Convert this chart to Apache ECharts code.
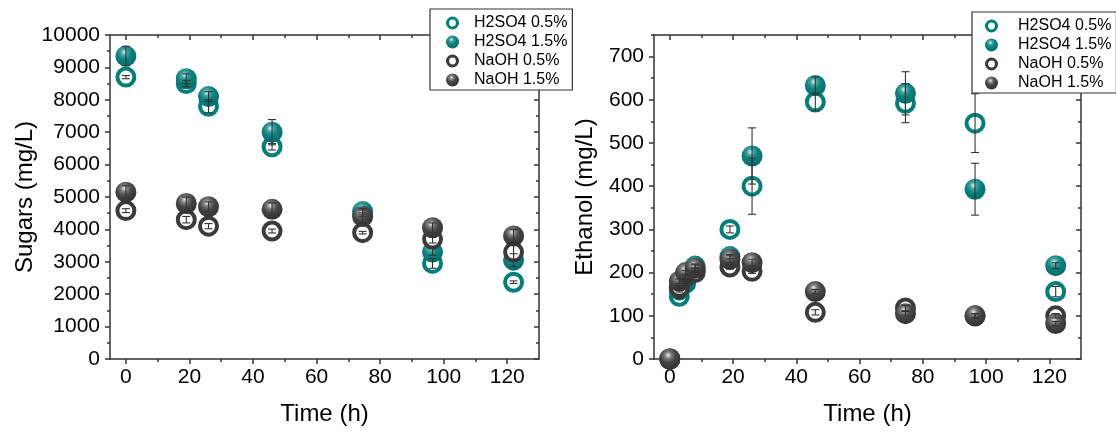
<!DOCTYPE html>
<html>
<head>
<meta charset="utf-8">
<script src="https://cdn.jsdelivr.net/npm/echarts@6/dist/echarts.min.js"></script>
<style>
  html, body { margin: 0; padding: 0; background: #fff; }
  #chart { width: 1116px; height: 435px; }
</style>
</head>
<body>
<div id="chart"></div>
<script>
// ---- data: residual sugars (mg/L) ----
const SUGAR_TIME = [0, 19, 26, 46, 74.5, 96.5, 122];
const SUGAR_H2SO4_05 = [8700, 8500, 7800, 6550, 4450, 2950, 2370];
const SUGAR_H2SO4_05_ERR = [50, 100, 200, 100, 60, 150, 40];
const SUGAR_H2SO4_15 = [9350, 8650, 8100, 7000, 4550, 3300, 3050];
const SUGAR_H2SO4_15_ERR = [300, 150, 150, 390, 100, 100, 200];
const SUGAR_NAOH_05 = [4580, 4300, 4100, 3950, 3900, 3700, 3300];
const SUGAR_NAOH_05_ERR = [60, 100, 80, 60, 40, 120, 250];
const SUGAR_NAOH_15 = [5150, 4800, 4700, 4620, 4400, 4050, 3800];
const SUGAR_NAOH_15_ERR = [200, 200, 150, 200, 200, 150, 200];

// ---- data: ethanol (mg/L) ----
const ETOH_TIME = [0, 3, 5, 8, 19, 26, 46, 74.5, 96.5, 122];
const ETOH_H2SO4_05 = [0, 145, 175, 205, 300, 400, 595, 592, 546, 156];
const ETOH_H2SO4_05_ERR = [0, 5, 5, 5, 8, 65, 20, 45, 68, 12];
const ETOH_H2SO4_15 = [0, 160, 180, 215, 237, 470, 633, 615, 393, 216];
const ETOH_H2SO4_15_ERR = [0, 5, 5, 5, 5, 65, 20, 50, 60, 7];
const ETOH_NAOH_05 = [0, 165, 190, 200, 213, 203, 108, 118, 100, 100];
const ETOH_NAOH_05_ERR = [0, 5, 5, 5, 5, 5, 6, 6, 5, 5];
const ETOH_NAOH_15 = [0, 180, 200, 210, 231, 223, 156, 105, 100, 82];
const ETOH_NAOH_15_ERR = [0, 5, 5, 8, 8, 8, 5, 5, 5, 5];

// ---- tick values ----
const TIME_TICKS = [0, 20, 40, 60, 80, 100, 120];
const TIME_MINOR = [10, 30, 50, 70, 90, 110];
const SUGAR_TICKS = [0, 1000, 2000, 3000, 4000, 5000, 6000, 7000, 8000, 9000, 10000];
const SUGAR_MINOR = [500, 1500, 2500, 3500, 4500, 5500, 6500, 7500, 8500, 9500];
const ETOH_TICKS = [0, 100, 200, 300, 400, 500, 600, 700];
const ETOH_MINOR = [50, 150, 250, 350, 450, 550, 650, 750];

const SERIES_NAMES = ['H2SO4 0.5%', 'H2SO4 1.5%', 'NaOH 0.5%', 'NaOH 1.5%'];

const FONT = '"Liberation Sans", Arial, sans-serif';
const TEAL = '#007f7b';
const GREY = '#3b3b3b';
const AXIS_LINE = { color: '#333', width: 1.5 };

function sphere(light, mid, base, edge) {
  return {
    type: 'radial', x: 0.42, y: 0.32, r: 0.72,
    colorStops: [
      { offset: 0, color: light },
      { offset: 0.22, color: mid },
      { offset: 0.5, color: base },
      { offset: 1, color: edge }
    ]
  };
}
const TEAL_BALL = sphere('#e4f3f2', '#3fa29e', '#0a807c', '#046c69');
const GREY_BALL = sphere('#eeeeee', '#7d7d7d', '#454545', '#303030');

// ring icon for the hollow markers in the legend
const RING = 'path://M0 50A50 50 0 1 1 100 50A50 50 0 1 1 0 50ZM24 50A26 26 0 1 0 76 50A26 26 0 1 0 24 50Z';

// One side of a frame: a main axis (line, major ticks, optional labels) and a minor-tick axis.
function sideAxes(grid, pos, min, max, major, minor, labelled, extra) {
  const common = { type: 'value', gridIndex: grid, position: pos, min: min, max: max,
                   splitLine: { show: false }, silent: true };
  const main = Object.assign({}, common, {
    axisLine: { show: true, onZero: false, lineStyle: AXIS_LINE },
    axisTick: { show: true, inside: !labelled, length: 5, customValues: major, lineStyle: AXIS_LINE },
    axisLabel: labelled ? {
      show: true, customValues: major, fontFamily: FONT, fontSize: 21, color: '#000',
      margin: (pos === 'left') ? 10 : 8,
      formatter: function (v) { return String(v); }
    } : { show: false }
  }, extra || {});
  const sub = Object.assign({}, common, {
    axisLine: { show: false, onZero: false },
    axisTick: { show: true, inside: !labelled, length: 3, customValues: minor, lineStyle: AXIS_LINE },
    axisLabel: { show: false }
  });
  return [main, sub];
}

function axisName(text, gap) {
  return { name: text, nameLocation: 'middle', nameGap: gap,
           nameTextStyle: { fontFamily: FONT, fontSize: 24, color: '#000' } };
}

const xAxes = []
  .concat(sideAxes(0, 'bottom', -5, 130, TIME_TICKS, TIME_MINOR, true, axisName('Time (h)', 43)))
  .concat(sideAxes(0, 'top', -5, 130, TIME_TICKS, TIME_MINOR, false))
  .concat(sideAxes(1, 'bottom', -5, 130, TIME_TICKS, TIME_MINOR, true, axisName('Time (h)', 43)))
  .concat(sideAxes(1, 'top', -5, 130, TIME_TICKS, TIME_MINOR, false));

const yAxes = []
  .concat(sideAxes(0, 'left', 0, 10000, SUGAR_TICKS, SUGAR_MINOR, true, axisName('Sugars (mg/L)', 72)))
  .concat(sideAxes(0, 'right', 0, 10000, SUGAR_TICKS, SUGAR_MINOR, false))
  .concat(sideAxes(1, 'left', 0, 750, ETOH_TICKS, ETOH_MINOR, true, axisName('Ethanol (mg/L)', 57)))
  .concat(sideAxes(1, 'right', 0, 750, ETOH_TICKS, ETOH_MINOR, false));

function points(times, vals) {
  return times.map(function (t, i) { return [t, vals[i]]; });
}

function markerSeries(grid, name, times, vals, hollow, color, ball) {
  return {
    type: 'scatter', name: name, xAxisIndex: grid * 4, yAxisIndex: grid * 4,
    data: points(times, vals), symbol: 'circle',
    symbolSize: hollow ? 17 : 21,
    itemStyle: hollow ? { color: '#fff', borderColor: color, borderWidth: 4, opacity: 1 }
                      : { color: ball, opacity: 1 },
    emphasis: { disabled: true }, z: 2, clip: true
  };
}

function renderErrorBar(params, api) {
  const x = api.value(0), y = api.value(1), e = api.value(2);
  if (!e) return null;
  const hi = api.coord([x, y + e]);
  const lo = api.coord([x, y - e]);
  const hw = 4;
  const style = { stroke: '#333', lineWidth: 1.1 };
  return {
    type: 'group',
    children: [
      { type: 'line', shape: { x1: hi[0], y1: hi[1], x2: lo[0], y2: lo[1] }, style: style },
      { type: 'line', shape: { x1: hi[0] - hw, y1: hi[1], x2: hi[0] + hw, y2: hi[1] }, style: style },
      { type: 'line', shape: { x1: lo[0] - hw, y1: lo[1], x2: lo[0] + hw, y2: lo[1] }, style: style }
    ]
  };
}

function errorSeries(grid, times, vals, errs) {
  return {
    type: 'custom', xAxisIndex: grid * 4, yAxisIndex: grid * 4,
    data: times.map(function (t, i) { return [t, vals[i], errs[i]]; }),
    encode: { x: 0, y: 1 }, renderItem: renderErrorBar, z: 3, silent: true
  };
}

const series = [
  markerSeries(0, SERIES_NAMES[0], SUGAR_TIME, SUGAR_H2SO4_05, true, TEAL),
  markerSeries(0, SERIES_NAMES[1], SUGAR_TIME, SUGAR_H2SO4_15, false, TEAL, TEAL_BALL),
  markerSeries(0, SERIES_NAMES[2], SUGAR_TIME, SUGAR_NAOH_05, true, GREY),
  markerSeries(0, SERIES_NAMES[3], SUGAR_TIME, SUGAR_NAOH_15, false, GREY, GREY_BALL),
  errorSeries(0, SUGAR_TIME, SUGAR_H2SO4_05, SUGAR_H2SO4_05_ERR),
  errorSeries(0, SUGAR_TIME, SUGAR_H2SO4_15, SUGAR_H2SO4_15_ERR),
  errorSeries(0, SUGAR_TIME, SUGAR_NAOH_05, SUGAR_NAOH_05_ERR),
  errorSeries(0, SUGAR_TIME, SUGAR_NAOH_15, SUGAR_NAOH_15_ERR),

  markerSeries(1, SERIES_NAMES[0], ETOH_TIME, ETOH_H2SO4_05, true, TEAL),
  markerSeries(1, SERIES_NAMES[1], ETOH_TIME, ETOH_H2SO4_15, false, TEAL, TEAL_BALL),
  markerSeries(1, SERIES_NAMES[2], ETOH_TIME, ETOH_NAOH_05, true, GREY),
  markerSeries(1, SERIES_NAMES[3], ETOH_TIME, ETOH_NAOH_15, false, GREY, GREY_BALL),
  errorSeries(1, ETOH_TIME, ETOH_H2SO4_05, ETOH_H2SO4_05_ERR),
  errorSeries(1, ETOH_TIME, ETOH_H2SO4_15, ETOH_H2SO4_15_ERR),
  errorSeries(1, ETOH_TIME, ETOH_NAOH_05, ETOH_NAOH_05_ERR),
  errorSeries(1, ETOH_TIME, ETOH_NAOH_15, ETOH_NAOH_15_ERR)
];

const LEGEND_ITEMS = [
  { name: SERIES_NAMES[0], icon: RING, itemStyle: { color: TEAL, borderWidth: 0 } },
  { name: SERIES_NAMES[1], icon: 'circle', itemStyle: { color: TEAL_BALL, borderWidth: 0 } },
  { name: SERIES_NAMES[2], icon: RING, itemStyle: { color: GREY, borderWidth: 0 } },
  { name: SERIES_NAMES[3], icon: 'circle', itemStyle: { color: GREY_BALL, borderWidth: 0 } }
];

function legendBox(left, top, padding, textGap) {
  return {
    orient: 'vertical', left: left, top: top, padding: padding,
    itemWidth: 13, itemHeight: 13, itemGap: 3,
    backgroundColor: '#fff', borderColor: '#333', borderWidth: 1.2,
    selectedMode: false, z: 10,
    textStyle: { fontFamily: FONT, fontSize: 16, color: '#000', padding: [0, 0, 0, textGap] },
    data: LEGEND_ITEMS
  };
}

const chart = echarts.init(document.getElementById('chart'), null, { renderer: 'canvas' });
chart.setOption({
  animation: false,
  backgroundColor: '#fff',
  grid: [
    { left: 110, top: 35, width: 429, height: 324 },
    { left: 654, top: 35, width: 427, height: 324 }
  ],
  legend: [
    legendBox(430, 9, [6, 5, 2, 16], 10),
    legendBox(972, 12, [6, 5, 2, 13], 15)
  ],
  xAxis: xAxes,
  yAxis: yAxes,
  series: series
});
</script>
</body>
</html>
